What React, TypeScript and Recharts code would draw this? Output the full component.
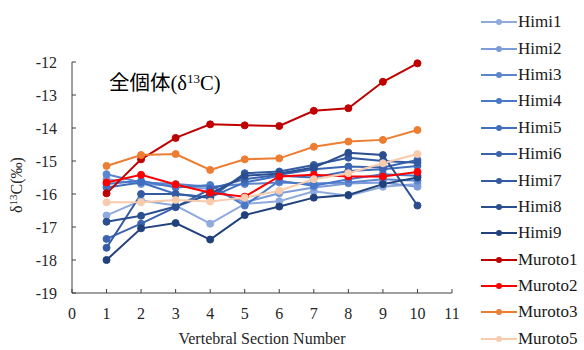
import { LineChart, Line, XAxis, YAxis, Legend, Customized } from 'recharts'

const sections = [1, 2, 3, 4, 5, 6, 7, 8, 9, 10]
const xTicks = [0, 1, 2, 3, 4, 5, 6, 7, 8, 9, 10, 11]
const yTicks = [-19, -18, -17, -16, -15, -14, -13, -12]

const himi1 = [-16.65, -16.2, -16.35, -16.9, -16.3, -16.22, -15.92, -16.05, -15.78, -15.7]
const himi2 = [-15.55, -15.7, -15.75, -15.85, -16.25, -15.98, -15.8, -15.68, -15.65, -15.78]
const himi3 = [-15.4, -15.65, -15.7, -15.78, -15.7, -15.65, -15.68, -15.65, -15.55, -15.6]
const himi4 = [-15.7, -15.6, -15.8, -15.73, -16.35, -15.6, -15.75, -15.55, -15.4, -15.45]
const himi5 = [-15.8, -15.65, -16.0, -16.1, -15.65, -15.45, -15.5, -15.3, -15.25, -15.15]
const himi6 = [-17.36, -16.9, -16.4, -15.85, -15.55, -15.42, -15.25, -15.17, -15.2, -14.97]
const himi7 = [-17.63, -16.0, -16.0, -16.12, -15.37, -15.32, -15.12, -14.9, -15.0, -15.05]
const himi8 = [-16.84, -16.66, -16.38, -16.0, -15.45, -15.38, -15.2, -14.75, -14.82, -16.35]
const himi9 = [-18.0, -17.04, -16.88, -17.38, -16.64, -16.38, -16.11, -16.03, -15.7, -15.5]
const muroto1 = [-15.98, -14.95, -14.3, -13.89, -13.92, -13.94, -13.48, -13.4, -12.6, -12.04]
const muroto2 = [-15.65, -15.42, -15.71, -15.96, -16.08, -15.47, -15.42, -15.47, -15.47, -15.33]
const muroto3 = [-15.15, -14.82, -14.79, -15.27, -14.95, -14.92, -14.57, -14.41, -14.36, -14.06]
const muroto5 = [-16.25, -16.25, -16.18, -16.23, -16.11, -15.9, -15.55, -15.37, -15.07, -14.79]

const series = [
  { name: 'Himi1', values: himi1, color: '#8faadc' },
  { name: 'Himi2', values: himi2, color: '#7c9cd9' },
  { name: 'Himi3', values: himi3, color: '#5a86d0' },
  { name: 'Himi4', values: himi4, color: '#4a78c8' },
  { name: 'Himi5', values: himi5, color: '#416fbf' },
  { name: 'Himi6', values: himi6, color: '#3a64b0' },
  { name: 'Himi7', values: himi7, color: '#335aa3' },
  { name: 'Himi8', values: himi8, color: '#2b4e8f' },
  { name: 'Himi9', values: himi9, color: '#21417c' },
  { name: 'Muroto1', values: muroto1, color: '#c00000' },
  { name: 'Muroto2', values: muroto2, color: '#ff0000' },
  { name: 'Muroto3', values: muroto3, color: '#ed7d31' },
  { name: 'Muroto5', values: muroto5, color: '#f8cbad' },
]

const data = sections.map((s, i) => {
  const row: Record<string, number> = { section: s }
  series.forEach((se) => {
    row[se.name] = se.values[i]
  })
  return row
})

const FONT = 'Liberation Serif, DejaVu Serif, serif'
const AXIS = '#404040'

const LegendContent = ({ payload }: any) => (
  <div style={{ fontFamily: FONT, fontSize: 17, color: '#1a1a1a' }}>
    {(payload || []).map((p: any) => (
      <div key={p.value} style={{ display: 'flex', alignItems: 'center', height: 26.4 }}>
        <svg width={37} height={10}>
          <line x1={0} y1={5} x2={36} y2={5} stroke={p.color} strokeWidth={2} />
          <circle cx={18} cy={5} r={3} fill={p.color} />
        </svg>
        <span>{p.value}</span>
      </div>
    ))}
  </div>
)

const Title = () => (
  <text x={109} y={90} fontSize={20.5} fill="#000" fontFamily="Liberation Serif, Noto Sans CJK JP, serif">
    全個体(δ
    <tspan fontSize={13} dy={-7}>13</tspan>
    <tspan dy={7}>C)</tspan>
  </text>
)

const YLabel = () => (
  <text
    x={22}
    y={185}
    transform="rotate(-90 22 185)"
    textAnchor="middle"
    fontSize={16}
    fill="#262626"
    fontFamily={FONT}
  >
    δ<tspan fontSize={11} dy={-5}>13</tspan>
    <tspan dy={5}>C(‰)</tspan>
  </text>
)

const XLabel = () => (
  <text x={262} y={344} textAnchor="middle" fontSize={16} fill="#262626" fontFamily={FONT}>
    Vertebral Section Number
  </text>
)

export default function App() {
  return (
    <div style={{ position: 'absolute', left: 0, top: 0, width: 584, height: 350, background: '#fff' }}>
      <LineChart width={584} height={350} data={data} margin={{ top: 62, right: 132, bottom: 27, left: 0 }}>
        <XAxis
          dataKey="section"
          type="number"
          domain={[0, 11]}
          ticks={xTicks}
          height={30}
          stroke={AXIS}
          tickSize={-4}
          tickMargin={19}
          tick={{ fill: '#262626', fontSize: 16, fontFamily: FONT }}
        />
        <YAxis
          type="number"
          domain={[-19, -12]}
          ticks={yTicks}
          width={72}
          stroke={AXIS}
          tickSize={-4}
          tickMargin={19}
          tick={{ fill: '#262626', fontSize: 16, fontFamily: FONT }}
        />
        {series.map((se) => (
          <Line
            key={se.name}
            dataKey={se.name}
            name={se.name}
            stroke={se.color}
            strokeWidth={2}
            dot={{ r: 3.5, fill: se.color, stroke: se.color, strokeWidth: 1 }}
            isAnimationActive={false}
          />
        ))}
        <Legend
          layout="vertical"
          align="center"
          verticalAlign="middle"
          content={<LegendContent />}
          wrapperStyle={{ left: 481, top: 9, width: 103 }}
        />
        <Customized component={Title} />
        <Customized component={YLabel} />
        <Customized component={XLabel} />
      </LineChart>
    </div>
  )
}
